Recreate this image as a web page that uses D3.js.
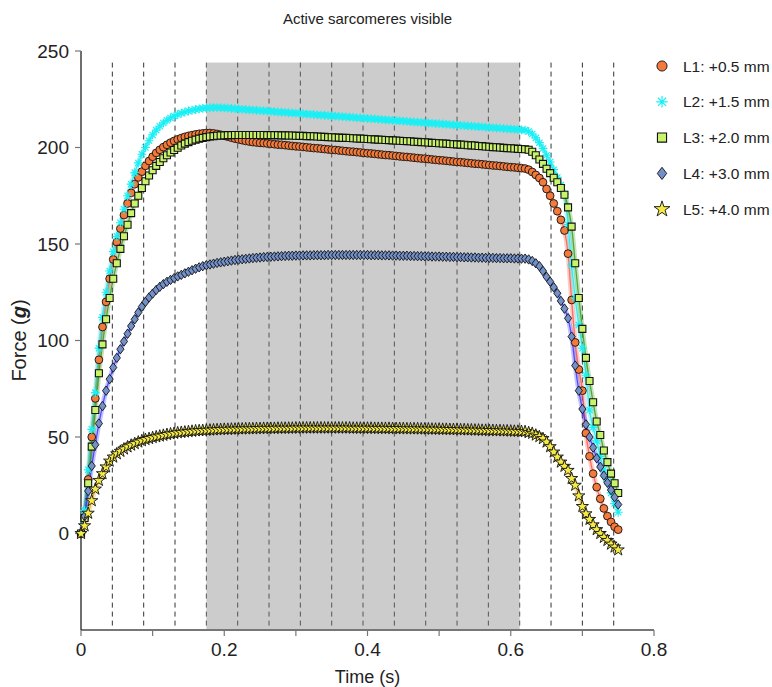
<!DOCTYPE html>
<html>
<head>
<meta charset="utf-8">
<script src="https://cdn.jsdelivr.net/npm/d3@7"></script>
<style>
  body { margin: 0; background: #fff; }
  svg text { font-family: Arial, "Liberation Sans", sans-serif; fill: #222; }
</style>
</head>
<body>
<div id="chart"></div>
<script>
// sample times (s)
const time = [
  0, 0.005, 0.01, 0.015, 0.02, 0.025, 0.03, 0.035, 0.04, 0.045,
  0.05, 0.055, 0.06, 0.065, 0.07, 0.075, 0.08, 0.085, 0.09, 0.095,
  0.1, 0.105, 0.11, 0.115, 0.12, 0.125, 0.13, 0.135, 0.14, 0.145,
  0.15, 0.155, 0.16, 0.165, 0.17, 0.175, 0.18, 0.185, 0.19, 0.195,
  0.2, 0.205, 0.21, 0.215, 0.22, 0.225, 0.23, 0.235, 0.24, 0.245,
  0.25, 0.255, 0.26, 0.265, 0.27, 0.275, 0.28, 0.285, 0.29, 0.295,
  0.3, 0.305, 0.31, 0.315, 0.32, 0.325, 0.33, 0.335, 0.34, 0.345,
  0.35, 0.355, 0.36, 0.365, 0.37, 0.375, 0.38, 0.385, 0.39, 0.395,
  0.4, 0.405, 0.41, 0.415, 0.42, 0.425, 0.43, 0.435, 0.44, 0.445,
  0.45, 0.455, 0.46, 0.465, 0.47, 0.475, 0.48, 0.485, 0.49, 0.495,
  0.5, 0.505, 0.51, 0.515, 0.52, 0.525, 0.53, 0.535, 0.54, 0.545,
  0.55, 0.555, 0.56, 0.565, 0.57, 0.575, 0.58, 0.585, 0.59, 0.595,
  0.6, 0.605, 0.61, 0.615, 0.62, 0.625, 0.63, 0.635, 0.64, 0.645,
  0.65, 0.655, 0.66, 0.665, 0.67, 0.675, 0.68, 0.685, 0.69, 0.695,
  0.7, 0.705, 0.71, 0.715, 0.72, 0.725, 0.73, 0.735, 0.74, 0.745,
  0.75
];

// force (g) for each length
const forceL1 = [
  0, 8, 28, 50, 70, 90, 107, 120, 132, 142,
  151, 158, 165, 171, 176.5, 181, 184.5, 187.5, 190.5, 193,
  195.2, 197.2, 198.8, 200.2, 201.4, 202.5, 203.4, 204.2, 204.9, 205.5,
  206, 206.4, 206.8, 207.1, 207.3, 207.5, 207.5, 207.3, 207, 206.6,
  206.1, 205.6, 205.1, 204.6, 204.2, 203.8, 203.4, 203.1, 202.8, 202.6,
  202.4, 202.3, 202.1, 201.9, 201.7, 201.5, 201.4, 201.2, 201.0, 200.8,
  200.6, 200.5, 200.3, 200.1, 199.9, 199.7, 199.6, 199.4, 199.2, 199.0,
  198.8, 198.7, 198.5, 198.3, 198.1, 197.9, 197.8, 197.6, 197.4, 197.2,
  197.0, 196.9, 196.7, 196.5, 196.3, 196.1, 196.0, 195.8, 195.6, 195.4,
  195.2, 195.1, 194.9, 194.7, 194.5, 194.3, 194.2, 194.0, 193.8, 193.6,
  193.4, 193.3, 193.1, 192.9, 192.7, 192.5, 192.4, 192.2, 192.0, 191.8,
  191.6, 191.5, 191.3, 191.1, 190.9, 190.7, 190.6, 190.4, 190.2, 190.0,
  189.8, 189.7, 189.5, 189.3, 189.1, 188.5, 187.3, 185.8, 184.2, 182,
  178.5, 175, 171, 167, 162.5, 157, 145, 121, 99, 85,
  74, 52, 40, 31, 24, 18, 13, 9, 6, 3.5,
  2
];
const forceL2 = [
  0, 12, 33, 54, 73, 96, 112, 125, 136, 146,
  154, 161, 168, 175, 181, 187, 192, 196.5, 200, 203.5,
  206.5, 209, 211, 212.7, 214.1, 215.3, 216.3, 217.1, 217.8, 218.4,
  218.9, 219.3, 219.7, 220, 220.3, 220.5, 220.6, 220.7, 220.7, 220.6,
  220.5, 220.4, 220.2, 220.1, 219.9, 219.8, 219.7, 219.5, 219.4, 219.3,
  219.1, 219.0, 218.9, 218.7, 218.6, 218.4, 218.3, 218.2, 218.0, 217.9,
  217.8, 217.6, 217.5, 217.3, 217.2, 217.1, 216.9, 216.8, 216.7, 216.5,
  216.4, 216.3, 216.1, 216.0, 215.8, 215.7, 215.6, 215.4, 215.3, 215.2,
  215.0, 214.9, 214.8, 214.6, 214.5, 214.3, 214.2, 214.1, 213.9, 213.8,
  213.7, 213.5, 213.4, 213.2, 213.1, 213.0, 212.8, 212.7, 212.6, 212.4,
  212.3, 212.2, 212.0, 211.9, 211.7, 211.6, 211.5, 211.3, 211.2, 211.1,
  210.9, 210.8, 210.7, 210.5, 210.4, 210.2, 210.1, 210.0, 209.8, 209.7,
  209.6, 209.4, 209.3, 209.1, 209.0, 208.3, 207, 205, 202.5, 199.5,
  196, 192.5, 188.5, 184.5, 180.5, 176, 160, 139, 122, 108,
  96, 82, 64, 55, 48, 40, 33, 27, 21, 15.5,
  11
];
const forceL3 = [
  0, 8, 26, 45, 64, 83, 98, 111, 122, 132,
  140, 147.5, 154, 160, 166, 171, 175, 179, 182.5, 185.5,
  188.2, 190.5, 192.5, 194.4, 196, 197.4, 198.7, 199.9, 201, 202,
  202.8, 203.5, 204.1, 204.6, 205, 205.4, 205.7, 205.9, 206.1, 206.2,
  206.3, 206.4, 206.4, 206.5, 206.5, 206.5, 206.5, 206.5, 206.5, 206.5,
  206.5, 206.5, 206.4, 206.4, 206.4, 206.4, 206.3, 206.3, 206.2, 206.2,
  206.1, 206.0, 206.0, 205.9, 205.9, 205.8, 205.7, 205.6, 205.5, 205.4,
  205.3, 205.2, 205.1, 205.0, 205.0, 204.9, 204.8, 204.7, 204.6, 204.5,
  204.4, 204.3, 204.2, 204.1, 204.0, 203.9, 203.8, 203.7, 203.6, 203.5,
  203.4, 203.3, 203.2, 203.0, 202.9, 202.8, 202.7, 202.6, 202.4, 202.3,
  202.2, 202.1, 202.0, 201.8, 201.7, 201.6, 201.5, 201.4, 201.2, 201.1,
  201.0, 200.8, 200.7, 200.5, 200.4, 200.2, 200.1, 200.0, 199.8, 199.7,
  199.6, 199.5, 199.3, 199.2, 199.1, 198.8, 197.8, 196, 193.8, 191.5,
  189, 186.7, 184.3, 182, 179, 175.5, 169, 159, 140, 122,
  106, 91, 79, 68, 58, 51, 43, 37, 31, 26,
  21
];
const forceL4 = [
  0, 9, 22, 35, 46, 57, 66, 74, 80, 86,
  91, 95.5, 99.5, 103.5, 107.5, 111, 114.5, 117.5, 120, 122.3,
  124.3, 126.2, 127.8, 129.2, 130.4, 131.4, 132.3, 133.2, 134, 134.8,
  135.6, 136.4, 137.2, 137.9, 138.5, 139, 139.4, 139.8, 140.2, 140.5,
  140.8, 141.1, 141.4, 141.7, 141.9, 142.1, 142.3, 142.5, 142.7, 142.9,
  143.0, 143.2, 143.3, 143.4, 143.5, 143.6, 143.7, 143.8, 143.9, 143.9,
  144.0, 144.0, 144.1, 144.1, 144.1, 144.2, 144.2, 144.2, 144.2, 144.3,
  144.3, 144.3, 144.3, 144.3, 144.3, 144.3, 144.3, 144.3, 144.3, 144.3,
  144.3, 144.2, 144.2, 144.2, 144.1, 144.1, 144.1, 144.0, 144.0, 143.9,
  143.9, 143.9, 143.8, 143.8, 143.7, 143.7, 143.6, 143.6, 143.5, 143.5,
  143.5, 143.4, 143.4, 143.3, 143.3, 143.2, 143.2, 143.1, 143.1, 143.0,
  143.0, 142.9, 142.9, 142.8, 142.8, 142.8, 142.7, 142.7, 142.6, 142.6,
  142.6, 142.5, 142.5, 142.4, 142.4, 142.0, 141.2, 140, 138.5, 136,
  133, 130.5, 127.6, 124.5, 120.5, 116.5, 111.5, 102, 87, 74,
  64.5, 56.5, 50, 44.5, 39, 34.5, 30, 26.3, 22.5, 18.8,
  15
];
const forceL5 = [
  0, 4, 10.5, 17, 23, 27.5, 31, 34.5, 37.5, 39.6,
  41.3, 42.6, 43.8, 44.9, 45.8, 46.6, 47.4, 48.1, 48.7, 49.2,
  49.7, 50.1, 50.5, 50.9, 51.3, 51.6, 51.9, 52.2, 52.4, 52.6,
  52.8, 53.0, 53.2, 53.3, 53.4, 53.5, 53.6, 53.7, 53.8, 53.9,
  54.0, 54.0, 54.1, 54.1, 54.2, 54.2, 54.3, 54.3, 54.3, 54.4,
  54.4, 54.5, 54.5, 54.5, 54.5, 54.6, 54.6, 54.6, 54.6, 54.6,
  54.7, 54.7, 54.7, 54.7, 54.7, 54.7, 54.7, 54.7, 54.7, 54.7,
  54.7, 54.7, 54.7, 54.7, 54.7, 54.7, 54.6, 54.6, 54.6, 54.6,
  54.6, 54.6, 54.5, 54.5, 54.5, 54.5, 54.5, 54.4, 54.4, 54.4,
  54.4, 54.3, 54.3, 54.3, 54.3, 54.2, 54.2, 54.2, 54.1, 54.1,
  54.1, 54.0, 54.0, 53.9, 53.9, 53.9, 53.8, 53.8, 53.7, 53.7,
  53.6, 53.6, 53.5, 53.5, 53.4, 53.4, 53.3, 53.3, 53.2, 53.2,
  53.1, 53.0, 53.0, 52.9, 52.8, 52.3, 51.9, 51.0, 50.2, 49.2,
  47.4, 45, 42.2, 39.6, 37, 34.8, 32.7, 28.5, 25, 19.5,
  14, 10.2, 7.3, 4.5, 2, 0, -2, -3.6, -5.5, -7,
  -8.5
];

const seriesNames = ["L1: +0.5 mm", "L2: +1.5 mm", "L3: +2.0 mm", "L4: +3.0 mm", "L5: +4.0 mm"];
const xTicks = [0, 0.2, 0.4, 0.6, 0.8];
const xMinorTicks = [0.1, 0.3, 0.5, 0.7];
const yTicks = [0, 50, 100, 150, 200, 250];
// image frame times (s) and the window where sarcomeres are visible
const frameTimes = [0.04375, 0.0875, 0.13125, 0.175, 0.21875, 0.2625, 0.30625, 0.35, 0.39375,
  0.4375, 0.48125, 0.525, 0.56875, 0.6125, 0.65625, 0.7, 0.74375];
const visibleWindow = [0.175, 0.6125];
const frameTop = 244;

const width = 772, height = 687;
const margin = { top: 51, right: 118, bottom: 57, left: 81 };

const svg = d3.select("#chart").append("svg")
  .attr("width", width)
  .attr("height", height);

const x = d3.scaleLinear().domain([0, 0.8]).range([margin.left, width - margin.right]);
const y = d3.scaleLinear().domain([-50, 250]).range([height - margin.bottom, margin.top]);

// shaded window
svg.append("rect")
  .attr("x", x(visibleWindow[0]))
  .attr("y", y(frameTop))
  .attr("width", x(visibleWindow[1]) - x(visibleWindow[0]))
  .attr("height", y(-50) - y(frameTop))
  .attr("fill", "#cccccc");

// frame lines
svg.append("g")
  .selectAll("line")
  .data(frameTimes)
  .join("line")
  .attr("x1", d => x(d)).attr("x2", d => x(d))
  .attr("y1", y(frameTop)).attr("y2", y(-50))
  .attr("stroke", d => (d >= visibleWindow[0] && d <= visibleWindow[1]) ? "#555" : "#333")
  .attr("stroke-width", 1)
  .attr("stroke-dasharray", "5,4");

// axes
const xAxis = svg.append("g")
  .attr("transform", `translate(0,${y(-50)})`);
xAxis.append("line")
  .attr("x1", x(0)).attr("x2", x(0.8))
  .attr("stroke", "#777").attr("stroke-width", 2);
xAxis.selectAll(".tick")
  .data(xTicks.concat(xMinorTicks))
  .join("line")
  .attr("x1", d => x(d)).attr("x2", d => x(d))
  .attr("y1", 0).attr("y2", 6)
  .attr("stroke", "#777").attr("stroke-width", 1.2);
xAxis.selectAll("text")
  .data(xTicks)
  .join("text")
  .attr("x", d => x(d))
  .attr("y", 26)
  .attr("text-anchor", "middle")
  .attr("font-size", 19)
  .text(d => d3.format("")(d));

const yAxis = svg.append("g").attr("transform", `translate(${x(0)},0)`);
yAxis.append("line")
  .attr("y1", y(250)).attr("y2", y(-50))
  .attr("stroke", "#222").attr("stroke-width", 1.3);
yAxis.selectAll(".tk")
  .data(yTicks)
  .join("line")
  .attr("x1", -6).attr("x2", 0)
  .attr("y1", d => y(d)).attr("y2", d => y(d))
  .attr("stroke", "#777").attr("stroke-width", 1.2);
yAxis.selectAll("text")
  .data(yTicks)
  .join("text")
  .attr("x", -12)
  .attr("y", d => y(d))
  .attr("dy", "0.36em")
  .attr("text-anchor", "end")
  .attr("font-size", 19)
  .text(d => d);

// titles
svg.append("text")
  .attr("x", (x(0) + x(0.8)) / 2).attr("y", 24)
  .attr("text-anchor", "middle")
  .attr("font-size", 15)
  .text("Active sarcomeres visible");

svg.append("text")
  .attr("x", (x(0) + x(0.8)) / 2).attr("y", 683)
  .attr("text-anchor", "middle")
  .attr("font-size", 18)
  .text("Time (s)");

const yLab = svg.append("text")
  .attr("transform", `translate(26,${(y(250) + y(-50)) / 2}) rotate(-90)`)
  .attr("text-anchor", "middle")
  .attr("font-size", 20);
yLab.append("tspan").text("Force (");
yLab.append("tspan").attr("font-weight", "bold").attr("font-style", "italic").text("g");
yLab.append("tspan").text(")");

// marker shapes
const asterisk = r => {
  const d = r * Math.SQRT1_2;
  return `M${-r},0L${r},0M0,${-r}L0,${r}M${-d},${-d}L${d},${d}M${-d},${d}L${d},${-d}`;
};
const diamond = (w, h) => `M0,${-h}L${w},0L0,${h}L${-w},0Z`;
const square = s => `M${-s},${-s}H${s}V${s}H${-s}Z`;

const series = [
  { name: seriesNames[0], values: forceL1, line: "#ff5a4a", kind: "circle", fill: "#f47a3b" },
  { name: seriesNames[1], values: forceL2, line: "#20e8f0", kind: "asterisk", fill: "#19f0f5" },
  { name: seriesNames[2], values: forceL3, line: "#3d9e1f", kind: "square", fill: "#c8f36b" },
  { name: seriesNames[3], values: forceL4, line: "#3838ff", kind: "diamond", fill: "#7390c8" },
  { name: seriesNames[4], values: forceL5, line: "#e8a21c", kind: "star", fill: "#f6ea45" }
];

function drawMarker(g, kind, fill, big) {
  const k = big ? 1.3 : 1;
  if (kind === "circle") {
    g.append("circle").attr("r", 3.9 * k).attr("fill", fill).attr("stroke", "#111").attr("stroke-width", 0.9);
  } else if (kind === "asterisk") {
    g.append("path").attr("d", asterisk(4.4 * k)).attr("stroke", fill).attr("stroke-width", 1.2).attr("fill", "none");
  } else if (kind === "square") {
    g.append("path").attr("d", square(3.5 * k)).attr("fill", fill).attr("stroke", "#111").attr("stroke-width", 1.1);
  } else if (kind === "diamond") {
    g.append("path").attr("d", diamond(3.6 * k, 4.7 * k)).attr("fill", fill).attr("stroke", "#111").attr("stroke-width", 0.9);
  } else {
    g.append("path").attr("d", d3.symbol(d3.symbolStar, 46 * k * k)()).attr("fill", fill).attr("stroke", "#111").attr("stroke-width", 0.9);
  }
}

const line = d3.line().x((d, i) => x(time[i])).y(d => y(d)).curve(d3.curveMonotoneX);

// trace bands
series.forEach(s => {
  svg.append("path").datum(s.values)
    .attr("d", line).attr("fill", "none")
    .attr("stroke", s.line).attr("stroke-width", 5).attr("stroke-opacity", 0.3);
  svg.append("path").datum(s.values)
    .attr("d", line).attr("fill", "none")
    .attr("stroke", s.line).attr("stroke-width", 1.3).attr("stroke-opacity", 0.85);
});

// markers
series.forEach(s => {
  svg.append("g")
    .selectAll("g")
    .data(s.values)
    .join("g")
    .attr("transform", (d, i) => `translate(${x(time[i])},${y(d)})`)
    .each(function () { drawMarker(d3.select(this), s.kind, s.fill, false); });
});

// legend
const legend = svg.append("g").attr("transform", "translate(662,66)");
series.forEach((s, i) => {
  const row = legend.append("g").attr("transform", `translate(0,${i * 35.8})`);
  drawMarker(row, s.kind, s.fill, true);
  row.append("text")
    .attr("x", 21).attr("dy", "0.36em")
    .attr("font-size", 15.5)
    .text(s.name);
});
</script>
</body>
</html>
